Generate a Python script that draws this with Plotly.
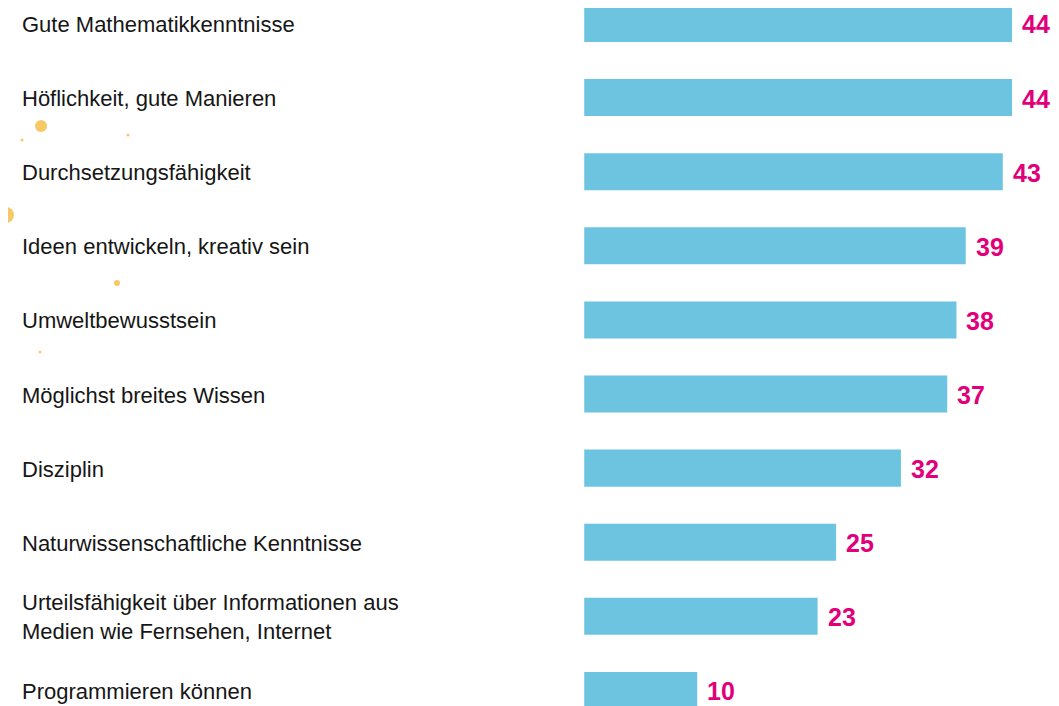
import plotly.graph_objects as go

categories = [
    "Gute Mathematikkenntnisse",
    "Höflichkeit, gute Manieren",
    "Durchsetzungsfähigkeit",
    "Ideen entwickeln, kreativ sein",
    "Umweltbewusstsein",
    "Möglichst breites Wissen",
    "Disziplin",
    "Naturwissenschaftliche Kenntnisse",
    "Urteilsfähigkeit über Informationen aus<br>Medien wie Fernsehen, Internet",
    "Programmieren können",
]
values = [44, 44, 43, 39, 38, 37, 32, 25, 23, 10]

BAR_COLOR = "#6CC4E0"
VALUE_COLOR = "#E2007A"
TEXT_COLOR = "#161616"
BASE = -2.2

# page has an 8px body margin: figure sized to fit the window exactly
W, H = 1051, 698
OFF = 8

pos = list(range(len(categories)))

fig = go.Figure()
fig.add_trace(go.Bar(
    x=[v - BASE for v in values],
    y=pos,
    base=BASE,
    orientation="h",
    width=0.5,
    marker=dict(color=BAR_COLOR, line=dict(width=0)),
    hoverinfo="skip",
))

annotations = []
for i, (c, v) in enumerate(zip(categories, values)):
    annotations.append(dict(
        x=(20 - OFF) / W, xref="paper", y=i, yref="y", yshift=-1,
        text=c, showarrow=False, xanchor="left", yanchor="middle", align="left",
        font=dict(family="Liberation Sans, Arial, sans-serif", size=22, color=TEXT_COLOR),
    ))
    annotations.append(dict(
        x=v, xref="x", y=i, yref="y", text=str(v), showarrow=False,
        xanchor="left", yanchor="middle", xshift=8, yshift=-1,
        font=dict(family="Liberation Sans, Arial, sans-serif", size=25,
                  color=VALUE_COLOR, weight="bold"),
    ))

# decorative paint splashes on the left
shapes = []
dots = [(41, 126, 6), (6, 215, 8), (117, 283, 3), (128, 135, 1.5), (22, 140, 1.5), (40, 352, 1.5)]
for cx, cy, r in dots:
    cx -= OFF
    cy -= OFF
    shapes.append(dict(
        type="circle", xref="paper", yref="paper",
        x0=(cx - r) / W, x1=(cx + r) / W,
        y0=1 - (cy + r) / H, y1=1 - (cy - r) / H,
        fillcolor="#F5C04A", line=dict(width=0), layer="above", opacity=0.85,
    ))

fig.update_layout(
    width=W, height=H,
    margin=dict(l=0, r=0, t=0, b=0),
    paper_bgcolor="white", plot_bgcolor="white",
    showlegend=False,
    xaxis=dict(range=[-64.43, 49.07], visible=False, fixedrange=True),
    yaxis=dict(range=[9.21, -0.209], visible=False, fixedrange=True),
    annotations=annotations,
    shapes=shapes,
)

fig.write_html("out.html")
